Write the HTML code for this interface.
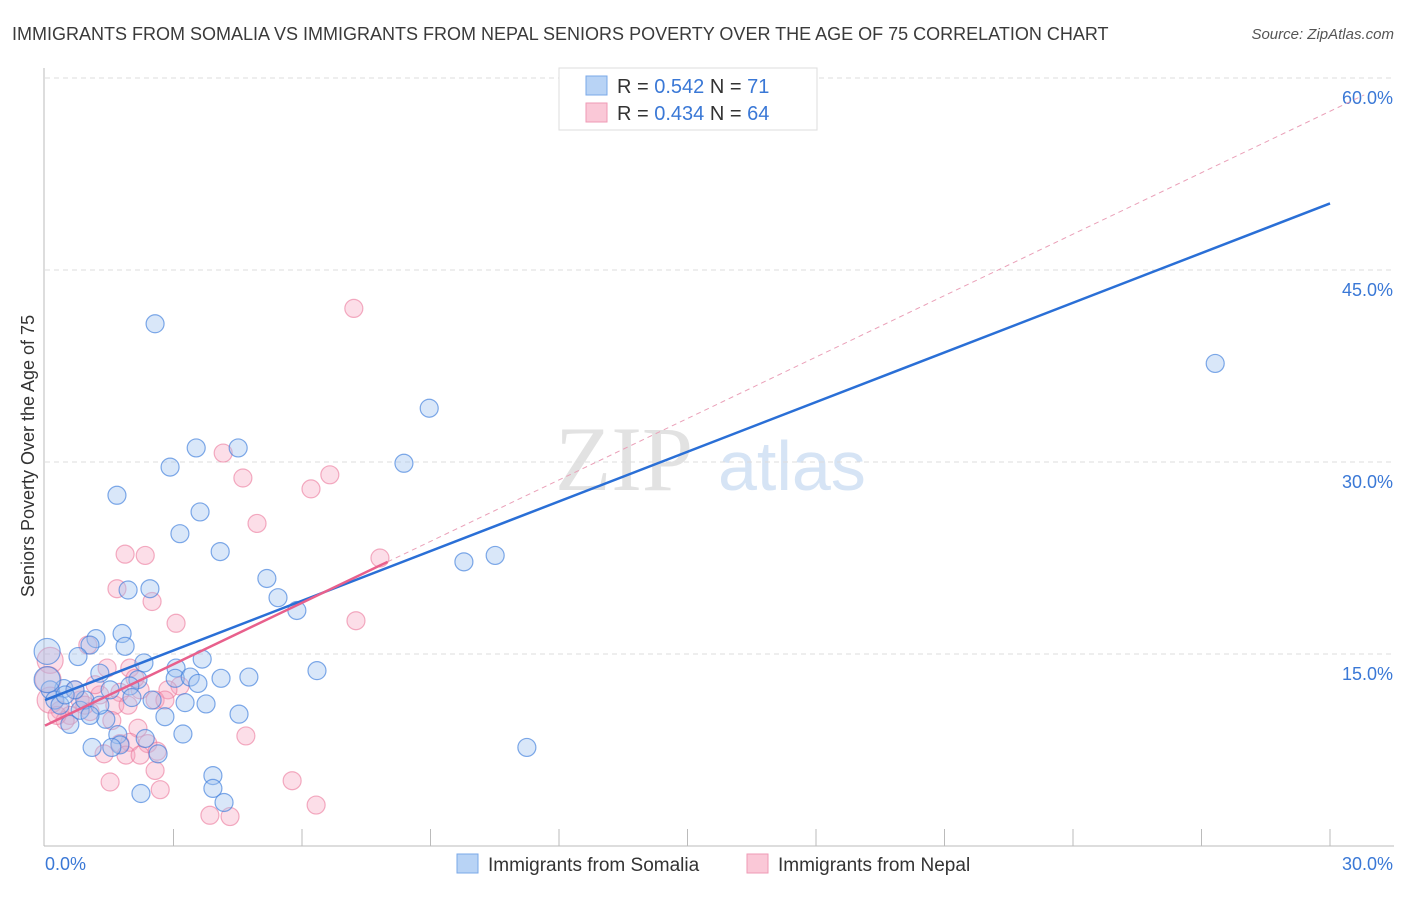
<!DOCTYPE html>
<html><head><meta charset="utf-8"><style>
body{margin:0;background:#fff;font-family:"Liberation Sans",sans-serif}
</style></head><body>
<svg id="chart" width="1406" height="892" xmlns="http://www.w3.org/2000/svg">
<text x="12" y="40" font-size="18" fill="#3a3a3a">IMMIGRANTS FROM SOMALIA VS IMMIGRANTS FROM NEPAL SENIORS POVERTY OVER THE AGE OF 75 CORRELATION CHART</text>
<text x="1394" y="39" font-size="15" fill="#555" font-style="italic" text-anchor="end">Source: ZipAtlas.com</text>
<text transform="translate(34,456) rotate(-90)" font-size="18" fill="#333" text-anchor="middle">Seniors Poverty Over the Age of 75</text>
<g>
<text x="555" y="490" font-size="92" fill="#e2e2e2" font-family="Liberation Serif,serif">ZIP</text>
<text x="718" y="490" font-size="70" fill="#d6e4f5">atlas</text>
</g>
<g id="grid"></g><g id="axes"></g><g id="pts"></g><g id="lines"></g>
<g>
<rect x="559" y="68" width="258" height="62" fill="#fff" stroke="#ddd"/>
<rect x="586" y="76" width="21" height="19" fill="#b8d3f5" stroke="#7aa8e8"/>
<rect x="586" y="103" width="21" height="19" fill="#fac8d7" stroke="#ef9ab5"/>
<text x="617" y="93" font-size="20" fill="#333">R = <tspan fill="#3a78d6">0.542</tspan>   N = <tspan fill="#3a78d6"> 71</tspan></text>
<text x="617" y="120" font-size="20" fill="#333">R = <tspan fill="#3a78d6">0.434</tspan>   N = <tspan fill="#3a78d6">64</tspan></text>
</g>
<g>
<rect x="457" y="854" width="21" height="19" fill="#b8d3f5" stroke="#7aa8e8"/>
<text x="488" y="871" font-size="19" fill="#333">Immigrants from Somalia</text>
<rect x="747" y="854" width="21" height="19" fill="#fac8d7" stroke="#ef9ab5"/>
<text x="778" y="871" font-size="19" fill="#333">Immigrants from Nepal</text>
</g>
</svg>
<script>
const yTicks=[15,30,45,60];
const xTickLabels=["0.0%","30.0%"];
const somaliaX=[2.57,1.68,2.92,3.53,4.51,3.62,3.15,4.09,8.97,8.38,27.32,9.78,10.51,5.18,1.94,2.45,5.44,5.88,1.80,1.19,1.87,1.05,0.77,2.31,3.67,3.06,1.28,2.17,3.04,3.39,3.57,4.11,4.76,6.35,1.98,0.44,1.52,2.03,3.27,3.76,2.50,2.80,4.53,1.42,0.58,3.22,1.10,1.70,1.75,1.56,2.34,2.64,3.92,3.92,2.24,4.18,11.25,0.05,0.12,0.23,0.35,0.82,0.93,0.70,0.47,1.28,1.05,14.06,0.05];
const somaliaY=[40.8,27.4,29.6,31.1,31.1,26.1,24.4,23.0,34.2,29.9,37.7,22.2,22.7,20.9,20.0,20.1,19.4,18.4,16.6,16.2,15.6,15.7,14.8,14.3,14.6,13.9,13.5,13.0,13.1,13.2,12.7,13.1,13.2,13.7,12.5,12.3,12.2,11.6,11.2,11.1,11.4,10.1,10.3,9.9,9.5,8.75,7.7,8.7,7.9,7.7,8.4,7.2,5.5,4.5,4.1,3.4,7.7,15.2,12.2,11.4,11.0,10.6,11.4,12.2,11.8,11.0,10.2,59.8,13.0];
const nepalX=[7.21,4.16,4.62,6.65,6.21,4.95,1.87,2.34,1.68,2.50,7.82,3.06,7.26,1.00,0.12,0.07,1.98,1.45,2.22,3.15,2.87,2.57,1.75,1.28,0.82,0.35,0.58,0.47,1.05,1.63,1.94,2.17,2.40,1.98,1.75,1.38,1.89,2.22,2.62,2.57,1.52,2.69,4.69,3.85,4.32,5.77,6.33,0.12,0.28,1.17,2.10,2.80,0.70,0.93,1.56];
const nepalY=[42.0,30.7,28.75,29.0,27.9,25.2,22.8,22.7,20.1,19.1,22.5,17.4,17.6,15.7,14.5,13.0,13.9,13.9,12.2,12.5,12.2,11.4,12.0,11.8,11.4,10.6,10.2,9.8,10.5,11.0,11.0,9.2,8.0,8.1,8.0,7.2,7.1,7.1,7.4,5.9,5.0,4.4,8.6,2.4,2.3,5.1,3.2,11.4,10.2,12.6,13.1,11.4,12.2,11.0,9.8];
const somaliaTrend=[11.4,50.2];
const nepalTrend=[9.4,22.2,8.0];
const NS="http://www.w3.org/2000/svg";
const X=v=>45+v/30*1285, Y=v=>846-v*12.8;
function mk(t,a,p){const e=document.createElementNS(NS,t);for(const k in a)e.setAttribute(k,a[k]);p.appendChild(e);return e;}
const grid=document.getElementById('grid'),axes=document.getElementById('axes'),pts=document.getElementById('pts'),lines=document.getElementById('lines');
yTicks.forEach(t=>{
 const l=mk('line',{x1:45,x2:1394,y1:Y(t),y2:Y(t),stroke:'#ddd','stroke-dasharray':'5,4'},grid);
 
 
 const tx=mk('text',{x:1393,y:Y(t)+26,'font-size':18,fill:'#3a78d6','text-anchor':'end'},axes);
 tx.textContent=t.toFixed(1)+'%';
 
 
});
mk('line',{x1:44,x2:44,y1:68,y2:846,stroke:'#bbb'},axes);
mk('line',{x1:44,x2:1394,y1:846,y2:846,stroke:'#bbb'},axes);
for(let i=1;i<=10;i++){const t=mk('line',{x1:X(i*3),x2:X(i*3),y1:829,y2:846,stroke:'#bbb'},axes);
 
 }
const x0=mk('text',{x:45,y:870,'font-size':18,fill:'#3a78d6'},axes);x0.textContent=xTickLabels[0];


const x1=mk('text',{x:1393,y:870,'font-size':18,fill:'#3a78d6','text-anchor':'end'},axes);x1.textContent=xTickLabels[1];


nepalX.forEach((v,i)=>{const big=v<0.15;const c=mk('circle',{cx:X(v),cy:Y(nepalY[i]),r:big?13:9,fill:'rgba(247,160,188,0.35)',stroke:'rgba(235,120,155,0.6)','stroke-width':1.2},pts);
 
 });
somaliaX.forEach((v,i)=>{const big=v<0.1;const c=mk('circle',{cx:X(v),cy:Y(somaliaY[i]),r:big?13:9,fill:'rgba(160,195,240,0.4)',stroke:'rgba(60,125,220,0.65)','stroke-width':1.2},pts);
 
 });
const slope=(nepalTrend[1]-nepalTrend[0])/nepalTrend[2];
const nd=mk('line',{x1:X(nepalTrend[2]),y1:Y(nepalTrend[1]),x2:X(30.8),y2:Y(nepalTrend[0]+slope*30.8),stroke:'#eaa0b8','stroke-dasharray':'5,4','stroke-width':1},lines);


const sl=mk('line',{x1:X(0),y1:Y(somaliaTrend[0]),x2:X(30),y2:Y(somaliaTrend[1]),stroke:'#2a6fd6','stroke-width':2.5},lines);


const nl=mk('line',{x1:X(0),y1:Y(nepalTrend[0]),x2:X(nepalTrend[2]),y2:Y(nepalTrend[1]),stroke:'#e8608c','stroke-width':2.5},lines);


</script>
</body></html>
